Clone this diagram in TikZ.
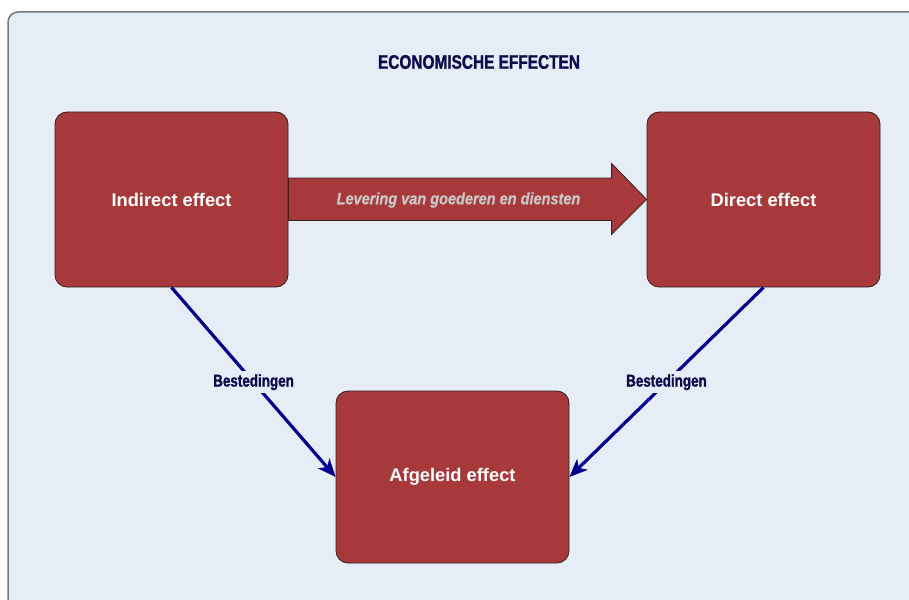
\documentclass[tikz,border=0pt]{standalone}
\usepackage{fontspec}
\setmainfont{Liberation Sans}
\newfontfamily\condbold[FakeStretch=0.79, FakeBold=1.3]{Liberation Sans Bold}
\newfontfamily\condboldit[FakeStretch=0.88, FakeBold=0.6]{Liberation Sans Bold Italic}
\usetikzlibrary{arrows.meta,calc}
\definecolor{panelbg}{RGB}{230,237,247}
\definecolor{panelline}{RGB}{120,120,120}
\definecolor{boxred}{RGB}{168,57,58}
\definecolor{boxline}{RGB}{50,35,35}
\definecolor{linkblue}{RGB}{0,0,140}
\definecolor{inkblue}{RGB}{12,10,75}
\definecolor{flowtext}{RGB}{200,200,200}
\tikzset{
  effectbox/.style={draw=boxline, line width=0.8pt, fill=boxred, rounded corners=12pt,
    minimum width=233pt, minimum height=175pt, text=white,
    font=\fontsize{18.3}{20}\selectfont\bfseries},
  spendlink/.style={draw=linkblue, line width=3.2pt,
    -{Stealth[length=18pt,width=15pt,inset=5pt]}},
  spendlabel/.style={fill=panelbg, inner sep=3pt, text=inkblue,
    font=\condbold\fontsize{17}{19}\selectfont},
}
\begin{document}
\begin{tikzpicture}[x=1pt,y=-1pt]
  \useasboundingbox (0,0) rectangle (909,599);
  % background panel
  \draw[panelline, line width=1.5pt, fill=panelbg, rounded corners=10pt]
    (8,12) rectangle (930,620);
  % title
  \node[text=inkblue, font=\condbold\fontsize{19.5}{21}\selectfont] (title) at (479,62)
    {ECONOMISCHE EFFECTEN};
  % effect boxes
  \node[effectbox] (ind) at (171.5,199.5) {Indirect effect};
  \node[effectbox] (dir) at (763.5,199.5) {Direct effect};
  \node[effectbox, minimum height=172pt] (afg) at (452.5,477) {Afgeleid effect};
  % delivery block arrow
  \draw[boxline, line width=0.8pt, fill=boxred]
    ($(ind.east)+(0,-21.5)$) -- ($(dir.west)+(-35,-21.5)$) -- ($(dir.west)+(-35,-36)$)
    -- (dir.west) -- ($(dir.west)+(-35,35)$) -- ($(dir.west)+(-35,21)$)
    -- ($(ind.east)+(0,21)$) -- cycle;
  \node[text=flowtext, font=\condboldit\fontsize{16.5}{18}\selectfont] (flow)
    at ($(ind.east)!0.5!(dir.west)+(-9,0.5)$) {Levering van goederen en diensten};
  % spending links
  \draw[spendlink] (ind.south) -- node[spendlabel] (bl) {Bestedingen} (afg.west);
  \draw[spendlink] (dir.south) -- node[spendlabel] (br) {Bestedingen} (afg.east);
\end{tikzpicture}
\end{document}
